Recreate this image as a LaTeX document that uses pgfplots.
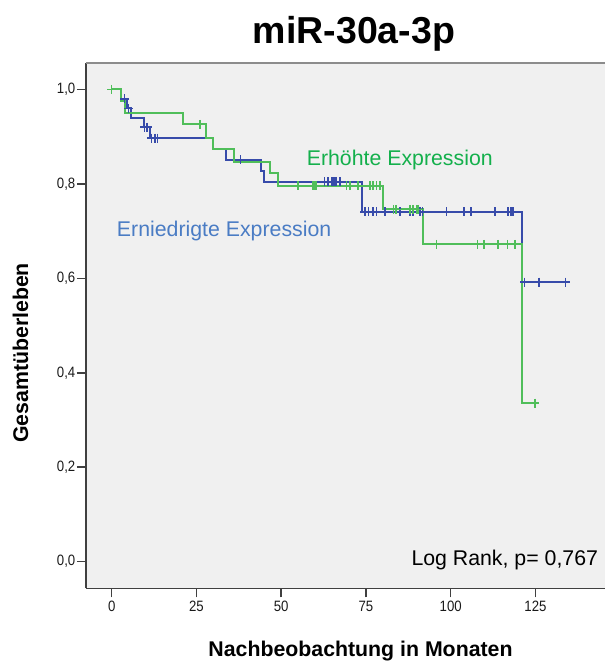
\documentclass[border=0pt]{standalone}
\usepackage{pgfplots}
\pgfplotsset{compat=1.18}
\usepackage{fontspec}
\setmainfont{Liberation Sans}
\newfontfamily\narrowsf[FakeStretch=0.88]{Liberation Sans}
\definecolor{grn}{RGB}{80,190,90}
\definecolor{grntext}{RGB}{20,176,76}
\definecolor{blu}{RGB}{55,75,170}
\definecolor{blutext}{RGB}{74,124,196}
\definecolor{bg}{RGB}{240,240,240}
\begin{document}
\begin{tikzpicture}
\useasboundingbox (0pt,0pt) rectangle (605pt,661pt);
\begin{axis}[
  at={(86pt,72.5pt)}, anchor=south west,
  scale only axis, width=519pt, height=525.5pt,
  xmin=-7.58, xmax=145.5, ymin=-0.0568, ymax=1.056,
  axis background/.style={fill=bg},
  axis x line*=bottom, axis y line*=left,
  axis line style={draw=black!75, line width=1.5pt, -},
  xtick={0,25,50,75,100,125}, ytick={0,0.2,0.4,0.6,0.8,1},
  tick align=outside, major tick length=9pt,
  tick style={draw=black!75, line width=1.5pt},
  /pgf/number format/assume math mode=true,
  yticklabel style={/pgf/number format/fixed, /pgf/number format/fixed zerofill, /pgf/number format/precision=1, /pgf/number format/use comma, inner sep=1.5pt},
  xticklabel style={/pgf/number format/fixed, /pgf/number format/precision=0},
  ticklabel style={font=\narrowsf\fontsize{15}{16}\selectfont, text=black!90},
  clip=false,
  after end axis/.code={\draw[draw=black!45, line width=2pt] (rel axis cs:0,1) -- (rel axis cs:1,1);},
]
% Erniedrigte Expression (blue)
\addplot[const plot, blu, line width=2pt] coordinates {
(0,1.0) (2.8,0.98) (4.6,0.96) (5.8,0.94) (9.5,0.92) (11.2,0.897)
(29.9,0.873) (33.8,0.851) (43.9,0.828) (45,0.805) (73.7,0.741)
(120.9,0.592) (133.8,0.592)};
\addplot[only marks, mark=+, mark size=4.5pt, blu, mark options={line width=1.6pt}] coordinates {
(3.8,0.98) (5,0.96) (9.7,0.92) (10.5,0.92) (11.7,0.897) (12.7,0.897) (13.5,0.897)
(38,0.851)
(62.8,0.805) (63.8,0.805) (64.8,0.805) (65.3,0.805) (65.8,0.805) (66.3,0.805) (67.3,0.805)
(74.7,0.741) (75.7,0.741) (77.1,0.741) (78.1,0.741) (80.6,0.741) (85,0.741) (88,0.741)
(88.8,0.741) (91,0.741) (91.7,0.741) (98.7,0.741) (103.9,0.741) (105.9,0.741) (113,0.741)
(116.9,0.741) (117.7,0.741) (118.4,0.741)
(121.8,0.592) (126,0.592) (133.8,0.592)};
% Erhoehte Expression (green)
\addplot[const plot, grn, line width=2pt] coordinates {
(0,1.0) (2.7,0.975) (3.8,0.951) (21,0.926) (27.9,0.898) (29.9,0.873)
(36,0.847) (46.8,0.822) (49.1,0.796) (80,0.746) (91.8,0.672)
(120.9,0.336) (124.8,0.336)};
\addplot[only marks, mark=+, mark size=4.5pt, grn, mark options={line width=1.6pt}] coordinates {
(0,1.0) (26,0.926)
(55,0.796) (59.4,0.796) (59.9,0.796) (60.4,0.796) (69.2,0.796) (70.2,0.796) (72.7,0.796)
(76.1,0.796) (77.1,0.796) (78.1,0.796) (79.1,0.796)
(83.1,0.746) (83.9,0.746) (87.9,0.746) (88.9,0.746) (89.9,0.746) (90.4,0.746)
(95.8,0.672) (107.9,0.672) (109.8,0.672) (114,0.672) (116.7,0.672) (118.9,0.672)
(124.8,0.336)};
\node[anchor=base west, inner sep=0pt, text=grntext, font=\fontsize{21.3}{24}\selectfont] at (axis cs:57.5,0.838) {Erhöhte Expression};
\node[anchor=base west, inner sep=0pt, text=blutext, font=\fontsize{21.3}{24}\selectfont] at (axis cs:1.5,0.688) {Erniedrigte Expression};
\node[anchor=base east, inner sep=0pt, text=black, font=\fontsize{21.3}{24}\selectfont] at (axis cs:143.5,-0.009) {Log Rank, p= 0,767};
\end{axis}
\node[anchor=base, inner sep=0pt, font=\bfseries\fontsize{37.5}{40}\selectfont] at (354pt,617pt) {miR-30a-3p};
\node[anchor=base, inner sep=0pt, font=\bfseries\fontsize{21.3}{24}\selectfont] at (360.5pt,5pt) {Nachbeobachtung in Monaten};
\node[anchor=base, rotate=90, inner sep=0pt, font=\bfseries\fontsize{21.3}{24}\selectfont] at (28pt,308pt) {Gesamtüberleben};
\end{tikzpicture}
\end{document}
